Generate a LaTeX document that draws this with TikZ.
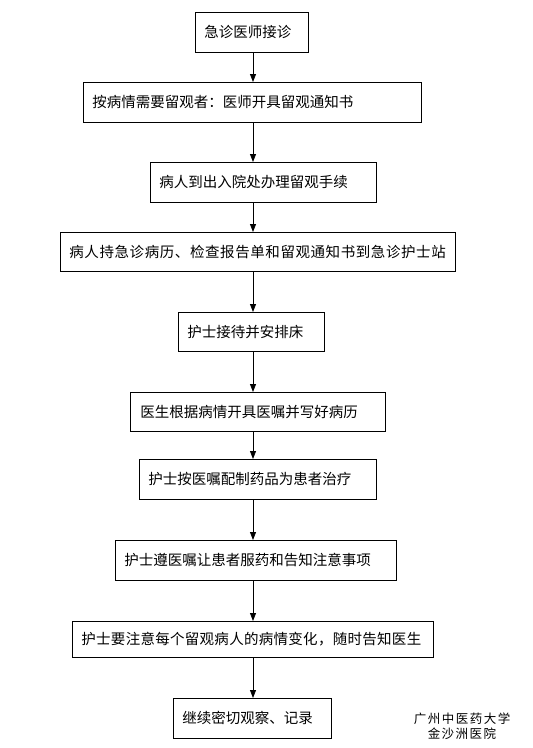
\documentclass[tikz,border=0pt]{standalone}
\usepackage{fontspec}
\newfontfamily\cjk{Noto Sans CJK SC}
\usetikzlibrary{arrows.meta}
\tikzset{
  stepbox/.style={draw, line width=0.8pt, inner xsep=9pt, inner ysep=0pt, anchor=north west, align=left,
    font=\cjk\fontsize{14.5}{16}\selectfont},
  flowarrow/.style={line width=0.8pt, -{Triangle[width=6pt,length=8pt]}},
}
\begin{document}
\begin{tikzpicture}[x=1pt,y=-1pt]
\useasboundingbox (0,0) rectangle (533,748);
\coordinate (axis) at (253,0);
\node[stepbox, text width=95pt, minimum height=40pt] (n1) at (195,12) {急诊医师接诊};
\node[stepbox, text width=320pt, minimum height=40pt] (n2) at (83,82) {按病情需要留观者：医师开具留观通知书};
\node[stepbox, text width=208pt, minimum height=40pt] (n3) at (150,162) {病人到出入院处办理留观手续};
\node[stepbox, text width=377pt, minimum height=39pt] (n4) at (60,232) {\addfontfeature{LetterSpace=4}病人持急诊病历、检查报告单和留观通知书到急诊护士站};
\node[stepbox, text width=128pt, minimum height=39pt] (n5) at (178,312) {护士接待并安排床};
\node[stepbox, text width=235pt, minimum height=39pt, inner xsep=10pt] (n6) at (130,392) {医生根据病情开具医嘱并写好病历};
\node[stepbox, text width=219pt, minimum height=40pt] (n7) at (139,459) {护士按医嘱配制药品为患者治疗};
\node[stepbox, text width=263pt, minimum height=40pt] (n8) at (115,540) {护士遵医嘱让患者服药和告知注意事项};
\node[stepbox, text width=343pt, minimum height=36pt] (n9) at (72,621) {\addfontfeature{LetterSpace=2}护士要注意每个留观病人的病情变化，随时告知医生};
\node[stepbox, text width=140pt, minimum height=40pt] (n10) at (173,698) {继续密切观察、记录};
\node[align=center, inner sep=0pt, font=\cjk\fontsize{12.5}{15}\selectfont\addfontfeature{LetterSpace=12}] (foot) at (462,726) {广州中医药大学\\金沙洲医院};
\foreach \a/\b in {n1/n2,n2/n3,n3/n4,n4/n5,n5/n6,n6/n7,n7/n8,n8/n9,n9/n10}
  \draw[flowarrow] (\a.south -| axis) -- (\b.north -| axis);
\end{tikzpicture}
\end{document}
